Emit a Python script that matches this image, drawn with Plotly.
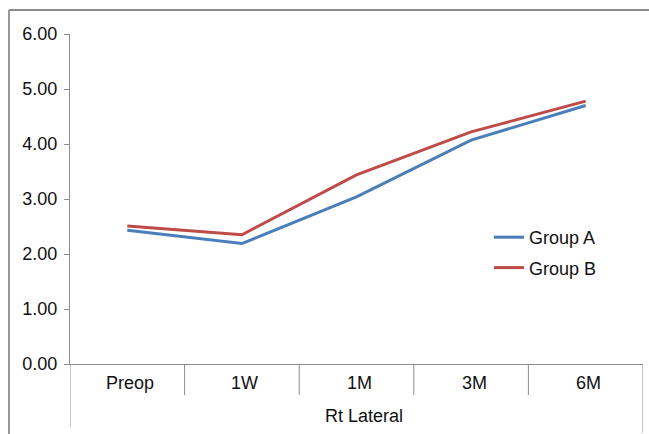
import plotly.graph_objects as go

# Follow-up time points and mean scores per group
timepoints = ["Preop", "1W", "1M", "3M", "6M"]
region_label = "Rt Lateral"
group_a = [2.43, 2.19, 3.04, 4.07, 4.70]
group_b = [2.51, 2.35, 3.44, 4.22, 4.78]
y_ticks = [0, 1, 2, 3, 4, 5, 6]

W, H = 649, 434
FONT = "Liberation Sans, Arial, sans-serif"
AXIS_GREY = "#8c8c8c"
TEXT = "#111111"
FS = 18

# plot area in pixels
px_left, px_right = 70, 643
px_top, px_bottom = 34, 364


def fx(px):
    return px / W


def fy(py):
    return (H - py) / H


fig = go.Figure()
fig.add_trace(go.Scatter(
    x=timepoints, y=group_a, mode="lines", name="Group A", legendgroup="a",
    line=dict(color="#4A7EBB", width=3),
))
fig.add_trace(go.Scatter(
    x=timepoints, y=group_b, mode="lines", name="Group B", legendgroup="b",
    line=dict(color="#BE4B48", width=3),
))

shapes = []
# outer chart border (left and top edges)
shapes.append(dict(type="line", xref="paper", yref="paper",
                   x0=fx(9), x1=fx(9), y0=fy(10), y1=fy(434),
                   line=dict(color=AXIS_GREY, width=1.8)))
shapes.append(dict(type="line", xref="paper", yref="paper",
                   x0=fx(9), x1=fx(649), y0=fy(10), y1=fy(10),
                   line=dict(color=AXIS_GREY, width=1.8)))
# category dividers below the x axis
n = len(timepoints)
for i in range(1, n):
    shapes.append(dict(type="line", xref="x", yref="paper",
                       x0=i - 0.5, x1=i - 0.5, y0=fy(px_bottom), y1=fy(395),
                       line=dict(color=AXIS_GREY, width=1)))
# outer ends of the grouped axis
shapes.append(dict(type="line", xref="x", yref="paper",
                   x0=-0.5, x1=-0.5, y0=fy(px_bottom), y1=fy(427),
                   line=dict(color=AXIS_GREY, width=1)))
shapes.append(dict(type="line", xref="x", yref="paper",
                   x0=n - 0.5, x1=n - 0.5, y0=fy(px_bottom), y1=fy(433),
                   line=dict(color=AXIS_GREY, width=1)))

annotations = []
for t in timepoints:
    annotations.append(dict(x=t, y=fy(383), xref="x", yref="paper",
                            text=t, showarrow=False, xshift=3,
                            font=dict(family=FONT, size=FS, color=TEXT),
                            xanchor="center", yanchor="middle"))
annotations.append(dict(x=(n - 1) / 2, y=fy(416), xref="x", yref="paper",
                        text=region_label, showarrow=False, xshift=7,
                        font=dict(family=FONT, size=FS, color=TEXT),
                        xanchor="center", yanchor="middle"))

fig.update_layout(
    width=W, height=H,
    margin=dict(l=0, r=0, t=0, b=0, autoexpand=False),
    paper_bgcolor="white", plot_bgcolor="white",
    showlegend=True,
    legend=dict(x=fx(489), y=fy(219), xanchor="left", yanchor="top",
                font=dict(family=FONT, size=FS, color=TEXT),
                bgcolor="rgba(0,0,0,0)", tracegroupgap=4),
    xaxis=dict(domain=[fx(px_left), fx(px_right)], type="category",
               range=[-0.5, n - 0.5], showticklabels=False, ticks="",
               showgrid=False, zeroline=False,
               showline=True, linecolor=AXIS_GREY, linewidth=1),
    yaxis=dict(domain=[fy(px_bottom), fy(px_top)], range=[0, 6],
               tickvals=y_ticks, tickformat=".2f",
               ticks="outside", ticklen=5, tickcolor=AXIS_GREY,
               ticklabelstandoff=3,
               showgrid=False, zeroline=False,
               showline=True, linecolor=AXIS_GREY, linewidth=1,
               tickfont=dict(family=FONT, size=FS, color=TEXT)),
    shapes=shapes,
    annotations=annotations,
)

fig.write_html("out.html")
